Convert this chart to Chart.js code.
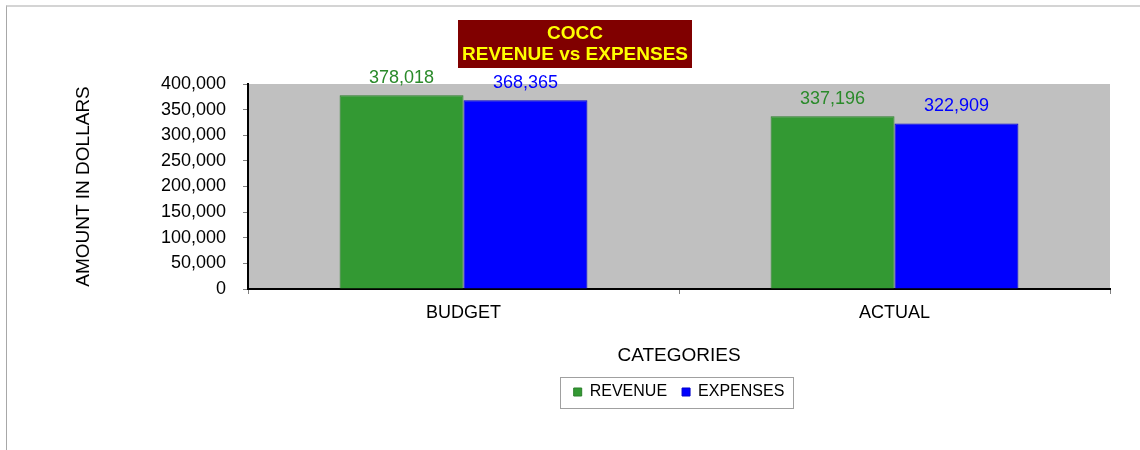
<!DOCTYPE html>
<html>
<head>
<meta charset="utf-8">
<script src="https://cdn.jsdelivr.net/npm/chart.js@4.4.1/dist/chart.umd.min.js"></script>
<style>
  html, body { margin: 0; padding: 0; background: #fff; }
  #wrap { position: relative; width: 1140px; height: 450px; }
  #frame { position: absolute; left: 6px; top: 5px; right: 0; bottom: 0;
           border-top: 2px solid #d4d4d4; border-left: 1px solid #a8a8a8; pointer-events: none; }
</style>
</head>
<body>
<div id="wrap">
  <canvas id="myChart" width="1140" height="450"></canvas>
  <div id="frame"></div>
</div>
<script>
const categories = ['BUDGET', 'ACTUAL']
const revenue = [378018, 337196]
const expenses = [368365, 322909]
const seriesNames = ['REVENUE', 'EXPENSES']
const titleLines = ['COCC', 'REVENUE vs EXPENSES']
const yTicks = [0, 50000, 100000, 150000, 200000, 250000, 300000, 350000, 400000]

const FONT = "'Liberation Sans', Arial, sans-serif"
Chart.defaults.font.family = FONT
Chart.defaults.color = '#000'

const fmt = v => Number(v).toLocaleString('en-US')

// gray plot background
const plotBg = {
  id: 'plotBg',
  beforeDraw (chart) {
    const { ctx, chartArea: a } = chart
    ctx.save()
    ctx.fillStyle = '#c0c0c0'
    ctx.fillRect(a.left, a.top, a.right - a.left, a.bottom - a.top)
    ctx.restore()
  }
}

// value labels above each bar, in the series colour
const valueLabels = {
  id: 'valueLabels',
  afterDatasetsDraw (chart) {
    const { ctx } = chart
    ctx.save()
    ctx.font = '18px ' + FONT
    ctx.textAlign = 'center'
    ctx.textBaseline = 'bottom'
    chart.data.datasets.forEach((ds, i) => {
      chart.getDatasetMeta(i).data.forEach((bar, j) => {
        ctx.fillStyle = ds.labelColor
        ctx.fillText(fmt(ds.data[j]), bar.x, bar.y - 8)
      })
    })
    ctx.restore()
  }
}

// dark red title box and legend frame
const extras = {
  id: 'extras',
  afterDraw (chart) {
    const { ctx } = chart
    ctx.save()
    ctx.fillStyle = '#800000'
    ctx.fillRect(458, 20, 234, 48)
    ctx.fillStyle = '#ffff00'
    ctx.font = 'bold 19px ' + FONT
    ctx.textAlign = 'center'
    ctx.textBaseline = 'middle'
    ctx.fillText(titleLines[0], 575, 34)
    ctx.fillText(titleLines[1], 575, 55)

    const hb = chart.legend.legendHitBoxes
    if (hb && hb.length) {
      const l = hb[0].left - 14
      const r = hb[hb.length - 1].left + hb[hb.length - 1].width + 8
      const t = hb[0].top - 7
      const b = hb[0].top + hb[0].height + 8
      ctx.strokeStyle = '#a0a0a0'
      ctx.lineWidth = 1
      ctx.strokeRect(Math.round(l) + 0.5, Math.round(t) + 0.5, Math.round(r - l), Math.round(b - t))
    }
    ctx.restore()
  }
}

const ctx = document.getElementById('myChart')
const chart = new Chart(ctx, {
  type: 'bar',
  data: {
    labels: categories,
    datasets: [
      { label: seriesNames[0], data: revenue, backgroundColor: '#339933', borderColor: '#2b7f2b',
        borderWidth: 1, labelColor: '#2a8a2a', categoryPercentage: 0.575, barPercentage: 1 },
      { label: seriesNames[1], data: expenses, backgroundColor: '#0000ff', borderColor: '#0000cc',
        borderWidth: 1, labelColor: '#0000ff', categoryPercentage: 0.575, barPercentage: 1 }
    ]
  },
  options: {
    responsive: false,
    animation: false,
    layout: { padding: { top: 84, right: 30, bottom: 40, left: 64 } },
    plugins: {
      title: { display: false },
      tooltip: { enabled: false },
      legend: {
        position: 'bottom',
        fullSize: false,
        labels: { boxWidth: 8, boxHeight: 8, padding: 15, font: { size: 16 }, color: '#000' }
      }
    },
    scales: {
      x: {
        afterFit: s => { s.height = 80 },
        grid: { display: true, offset: true, drawOnChartArea: false, tickLength: 5, color: '#808080' },
        border: { color: '#000', width: 2 },
        ticks: { padding: 8, font: { size: 18 }, color: '#000' },
        title: { display: true, text: 'CATEGORIES', font: { size: 19 }, color: '#000', padding: { top: 4, bottom: 2 } }
      },
      y: {
        min: 0,
        max: 400000,
        afterFit: s => { s.width = 184 },
        afterBuildTicks: s => { s.ticks = yTicks.map(v => ({ value: v })) },
        grid: { drawOnChartArea: false, tickLength: 5, color: '#808080' },
        border: { color: '#000', width: 2 },
        ticks: { padding: 17, font: { size: 18 }, color: '#000', callback: v => fmt(v) },
        title: { display: true, text: 'AMOUNT IN DOLLARS', font: { size: 19 }, color: '#000', padding: { top: 8, bottom: 4 } }
      }
    }
  },
  plugins: [plotBg, valueLabels, extras]
})
</script>
</body>
</html>
